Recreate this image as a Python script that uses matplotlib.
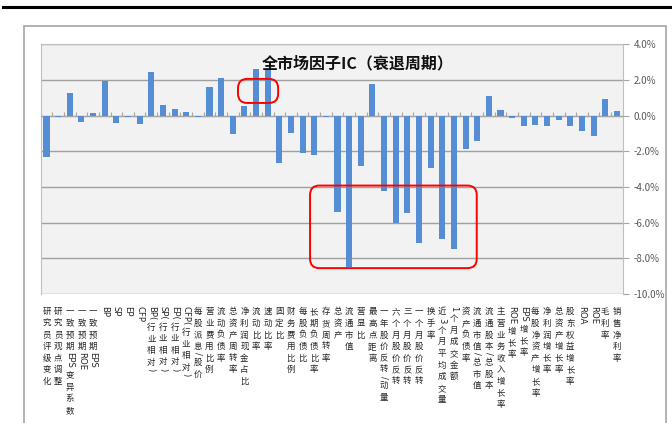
import matplotlib
matplotlib.use('Agg')
import matplotlib.pyplot as plt
import matplotlib.transforms as mtransforms
from matplotlib.patches import FancyBboxPatch, Rectangle
from matplotlib.lines import Line2D
from matplotlib.ticker import FuncFormatter, FixedLocator

plt.rcParams['font.family'] = ['Noto Sans CJK SC', 'DejaVu Sans']

factors = ['研究员评级变化', '研究员观点调整', '一致预期EPS变异系数', '一致预期ROE', '一致预期EPS',
           'BP', 'SP', 'EP', 'CFP', 'BP(行业相对)', 'SP(行业相对)', 'EP(行业相对)', 'CFP(行业相对)',
           '每股派息/股价', '营业费用比例', '流动负债率', '总资产周转率', '净利润现金占比',
           '流动比率', '速动比率', '固定比', '财务费用比例', '每股负债比', '长期负债比率',
           '存货周转率', '总资产', '流通市值', '营显比', '最高点距离', '一年股价反转/动量',
           '六个月股价反转', '三个月股价反转', '一个月股价反转', '换手率', '近3个月平均成交量',
           '1个月成交金额', '资产负债率', '流通市值/总市值', '流通股本/总股本', '主营业务收入增长率',
           'ROE增长率', 'EPS增长率', '每股净资产增长率', '净利润增长率', '总资产增长率',
           '股东权益增长率', 'ROA', 'ROE', '毛利率', '销售净利率']

ic = [-2.34, -0.09, 1.25, -0.34, 0.13, 1.96, -0.39, -0.09, -0.45, 2.43,
      0.60, 0.36, 0.21, -0.09, 1.59, 2.13, -1.05, 0.52, 2.60, 2.54,
      -2.67, -0.99, -2.11, -2.22, -0.09, -5.40, -8.47, -2.80, 1.78, -4.22,
      -6.04, -5.44, -7.16, -2.92, -6.93, -7.48, -1.89, -1.44, 1.12, 0.32,
      -0.15, -0.56, -0.50, -0.56, -0.26, -0.56, -0.86, -1.16, 0.95, 0.26]

yticks = [4, 2, 0, -2, -4, -6, -8, -10]

W, H = 672, 423
fig = plt.figure(figsize=(W / 100, H / 100), dpi=100)
ax = fig.add_axes([40.7 / W, 1 - 294 / H, (622.7 - 40.7) / W, (294 - 44.3) / H])

x = list(range(len(factors)))
ax.bar(x, ic, width=0.52, color='#558ed5', zorder=3)

ax.set_xlim(-0.5, len(factors) - 0.5)
ax.set_ylim(-10, 4)
ax.set_facecolor('#f2f2f2')

ax.yaxis.tick_right()
ax.set_yticks(yticks)
ax.yaxis.set_major_formatter(FuncFormatter(lambda v, p: f'{v:.1f}%'))
ax.tick_params(axis='y', labelsize=7, colors='#595959', length=4, width=0.8, pad=4)
ax.tick_params(axis='y', color='#a6a6a6')
ax.grid(axis='y', color='#a0a0a0', linewidth=1, zorder=1)

# category axis through zero
ax.spines['bottom'].set_position(('data', 0))
ax.spines['bottom'].set_color('#a6a6a6')
ax.xaxis.set_major_locator(FixedLocator([i - 0.5 for i in range(len(factors) + 1)]))
ax.tick_params(axis='x', direction='in', length=3, color='#a6a6a6', labelbottom=False)
for s in ['top', 'left', 'right']:
    ax.spines[s].set_color('#bfbfbf')

ax.text(0.545, 0.925, '全市场因子IC（衰退周期）', transform=ax.transAxes, ha='center', va='center',
        fontsize=11.5, fontweight='bold', color='#111111', zorder=5)

# red highlight boxes
asp = (14 / 249.7) / (50 / 582.0)
for x0, x1, y0, y1 in [(16.45, 19.9, 0.71, 2.06), (22.64, 36.96, -8.55, -3.92)]:
    ax.add_patch(FancyBboxPatch((x0, y0), x1 - x0, y1 - y0,
                                boxstyle='round,pad=0,rounding_size=0.8', mutation_aspect=asp,
                                fill=False, edgecolor='#ff0000', linewidth=1.4, zorder=6, clip_on=False))

# vertical stacked labels
renderer = fig.canvas.get_renderer()
trans = mtransforms.blended_transform_factory(ax.transData, fig.transFigure)
top_px = 306
adv = 11.6
for i, lab in enumerate(factors):
    tokens = []
    for ch in lab:
        if ord(ch) < 128:
            if tokens and tokens[-1][0] == 'a':
                tokens[-1][1] += ch
            else:
                tokens.append(['a', ch])
        else:
            tokens.append(['c', ch])
    cur = top_px
    for kind, s in tokens:
        if kind == 'c':
            ax.text(i, 1 - (cur + adv / 2) / H, s, transform=trans, ha='center', va='center',
                    fontsize=6.1, color='#262626', clip_on=False)
            cur += adv
        else:
            t = ax.text(i, 1 - cur / H, s, transform=trans, ha='center', va='top', rotation=-90,
                        fontsize=6.1, color='#262626', clip_on=False,
                        family=['DejaVu Sans'])
            h = t.get_window_extent(renderer).height
            cur += h + 1.5

# outer chart frame and top rule
fig.add_artist(Line2D([3 / W, 1], [1 - 7 / H, 1 - 7 / H], color='black', linewidth=2.2,
                      transform=fig.transFigure))
fig.add_artist(Rectangle((24 / W, -0.05), (666 - 24) / W, 1.05 - 26 / H, transform=fig.transFigure,
                         fill=False, edgecolor='#a6a6a6', linewidth=1.2))

fig.savefig('out.png', dpi=100)
